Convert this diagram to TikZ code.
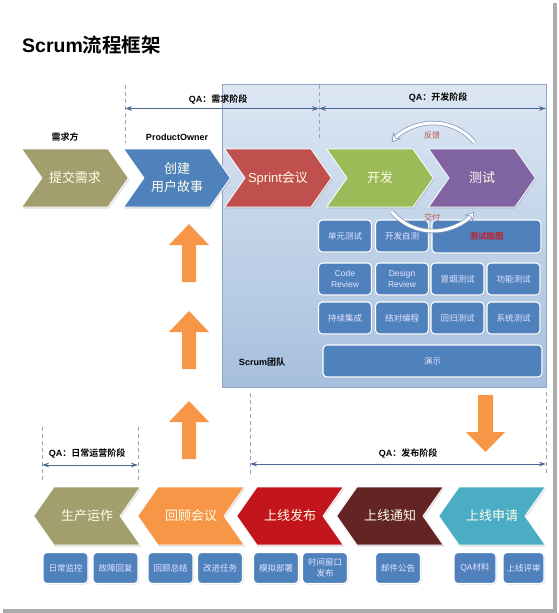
\documentclass[tikz,border=0pt]{standalone}
\usepackage{fontspec}
\setmainfont{Liberation Sans}
\newfontfamily\cjk{Noto Sans CJK SC}[BoldFont={Noto Sans CJK SC Bold}]
\usetikzlibrary{shapes.symbols,arrows.meta,shadows}
\usetikzlibrary{positioning}
\definecolor{chOlive}{HTML}{A39E6E}
\definecolor{chBlue}{HTML}{4F81BD}
\definecolor{chRed}{HTML}{C0504D}
\definecolor{chGreen}{HTML}{9BBB59}
\definecolor{chPurple}{HTML}{8064A2}
\definecolor{chOrange}{HTML}{F79646}
\definecolor{chCrimson}{HTML}{C3161C}
\definecolor{chMaroon}{HTML}{632523}
\definecolor{chTeal}{HTML}{4BACC6}
\definecolor{qaLine}{HTML}{4A6892}
\definecolor{dashGray}{HTML}{95A7C0}
\definecolor{teamTop}{HTML}{DDE7F3}
\definecolor{teamBottom}{HTML}{A6BFDE}
\definecolor{teamEdge}{HTML}{8EA6C6}
\definecolor{loopEdge}{HTML}{7F97B8}
\definecolor{mapRed}{HTML}{C0202A}
\tikzset{
    chev/.style={
           signal, signal to=east, signal from=west,
           signal pointer angle=110,
           draw=white, line width=0.8pt,
           minimum height=58pt,
           text width=60pt, inner xsep=3pt, inner ysep=0pt,
           align=center,
           text=white!92!yellow,
           font=\cjk\fontsize{13}{18}\selectfont,
           drop shadow={opacity=0.25, shadow xshift=1pt, shadow yshift=-1.5pt},
           },
    chevback/.style={chev, signal to=west, signal from=east},
    task/.style={
           rectangle,
           rounded corners=4pt,
           fill=chBlue,
           draw=white, line width=1.1pt,
           minimum width=53pt,
           minimum height=32pt,
           inner sep=0pt,
           align=center,
           text=white!90!blue,
           font=\cjk\fontsize{8.5}{11}\selectfont,
           drop shadow={opacity=0.25, shadow xshift=1pt, shadow yshift=-1pt},
           },
    smalltask/.style={task, minimum width=45pt, minimum height=31pt},
    caption/.style={font=\bfseries\fontsize{9}{11}\selectfont, inner sep=0pt},
    phase/.style={dashGray, line width=0.9pt, dash pattern=on 4pt off 3pt},
    qa/.style={qaLine, line width=0.8pt, {Stealth[length=7pt,width=4.5pt]}-{Stealth[length=7pt,width=4.5pt]}},
    loopline/.style={draw=loopEdge, line width=0.7pt, double=white, double distance=3pt,
           -{Stealth[length=9pt,width=11pt,fill=white]}},
    looptext/.style={text=chRed, font=\cjk\fontsize{8}{10}\selectfont, inner sep=0pt},
}

\begin{document}
\begin{tikzpicture}[x=1pt,y=-1pt]
  \useasboundingbox (0,0) rectangle (558,613);
  % frame shadow
  \fill[gray!65] (553,3) rectangle (557,613);
  \fill[gray!65] (3,609) rectangle (557,613);

  \node[anchor=west, inner sep=0pt, font=\bfseries\fontsize{19.5}{22}\selectfont] (title) at (22,45)
    {Scrum\cjk 流程框架};

  % scrum team
  \draw[teamEdge, top color=teamTop, bottom color=teamBottom] (222,84) rectangle (546,387);
  \node[caption] (team) at (262,362) {Scrum\cjk 团队};

  % top row
  \node[chev, fill=chOlive] (req) at (75,178) {提交需求};
  \node[chev, fill=chBlue] (story) at (177,178) {创建\\用户故事};
  \node[chev, fill=chRed] (sprint) at (278,178) {\rmfamily Sprint\cjk 会议};
  \node[chev, fill=chGreen] (dev) at (380,178) {开发};
  \node[chev, fill=chPurple] (test) at (482,178) {测试};

  \node[caption] (reqside) at (65,137) {\cjk 需求方};
  \node[caption] (po) at (177,137) {ProductOwner};

  % QA phases, top
  \coordinate (d1t) at (125,85);  \coordinate (d1b) at (125,143);
  \coordinate (d2t) at (319,85);  \coordinate (d2b) at (319,141);
  \coordinate (d3) at (546,108.5);
  \draw[phase] (d1t) -- (d1b);
  \draw[phase] (d2t) -- (d2b);
  \draw[qa] (d1t |- d3) -- (d2t |- d3);
  \draw[qa] (d2t |- d3) -- (d3);
  \node[caption] (qareq) at (218,100) {QA\cjk ：需求阶段};
  \node[caption] (qadev) at (438,98) {QA\cjk ：开发阶段};

  % team practices
  \node[task] (unit) at (345,236) {单元测试};
  \node[task] (selftest) at (402,236) {开发自测};
  \node[task, minimum width=109pt, minimum height=33pt, text=mapRed, font=\cjk\bfseries\fontsize{8.5}{11}\selectfont] (mindmap) at (486.5,236.5) {测试脑图};
  \node[task, font=\fontsize{8.5}{10.5}\selectfont] (codereview) at (345,279) {Code\\Review};
  \node[task, font=\fontsize{8.5}{10.5}\selectfont] (designreview) at (402,279) {Design\\Review};
  \node[task] (smoke) at (457.5,279) {冒烟测试};
  \node[task] (func) at (513.5,279) {功能测试};
  \node[task] (ci) at (345,318) {持续集成};
  \node[task] (pair) at (402,318) {结对编程};
  \node[task] (regress) at (457.5,318) {回归测试};
  \node[task] (system) at (513.5,318) {系统测试};
  \node[task, minimum width=219pt] (demo) at (432.5,361) {演示};

  % feedback loop
  \coordinate (loop) at (433,177);
  \draw[loopline] ([shift={(-40:54)}]loop) arc[start angle=-40, end angle=-140, radius=54];
  \draw[loopline] ([shift={(-220:54)}]loop) arc[start angle=-220, end angle=-320, radius=54];
  \node[looptext] (fb) at (432,135) {反馈};
  \node[looptext] (dl) at (432,217) {交付};

  % orange arrows
  \foreach \tip in {224,311,401}
    \fill[chOrange] (189,\tip) -- (209,\tip+21) -- (196,\tip+21) -- (196,\tip+58)
      -- (182,\tip+58) -- (182,\tip+21) -- (169,\tip+21) -- cycle;
  \fill[chOrange] (478,395) -- (493,395) -- (493,432) -- (505,432) -- (485.5,452)
    -- (466,432) -- (478,432) -- cycle;

  % QA phases, bottom
  \coordinate (d4t) at (42,427);  \coordinate (d4b) at (42,482);
  \coordinate (d5t) at (138,427); \coordinate (d5b) at (138,482);
  \coordinate (d6t) at (250,393); \coordinate (d6b) at (250,475);
  \coordinate (d7t) at (546,392); \coordinate (d7b) at (546,476);
  \draw[phase] (d4t) -- (d4b);
  \draw[phase] (d5t) -- (d5b);
  \draw[phase] (d6t) -- (d6b);
  \draw[phase] (d7t) -- (d7b);
  \draw[qa] (42,465) -- (138,465);
  \draw[qa] (250,464) -- (546,464);
  \node[caption] (qaops) at (87,454) {QA\cjk ：日常运营阶段};
  \node[caption] (qarel) at (408,454) {QA\cjk ：发布阶段};

  % bottom row
  \node[chevback, fill=chOlive] (ops) at (87,516) {生产运作};
  \node[chevback, fill=chOrange] (retro) at (191,516) {回顾会议};
  \node[chevback, fill=chCrimson] (release) at (290,516) {上线发布};
  \node[chevback, fill=chMaroon] (notice) at (390,516) {上线通知};
  \node[chevback, fill=chTeal] (apply) at (492,516) {上线申请};

  \node[smalltask] (monitor) at (65.5,568) {日常监控};
  \node[smalltask] (recover) at (115.5,568) {故障回复};
  \node[smalltask] (summary) at (170.5,568) {回顾总结};
  \node[smalltask] (improve) at (220,568) {改进任务};
  \node[smalltask] (mock) at (276,568) {模拟部署};
  \node[smalltask] (window) at (325,568) {时间窗口\\发布};
  \node[smalltask] (mail) at (398,568) {邮件公告};
  \node[smalltask, minimum width=42pt] (qadoc) at (475,568) {\rmfamily QA\cjk 材料};
  \node[smalltask, minimum width=41pt] (review) at (523.5,568) {上线评审};
\end{tikzpicture}
\end{document}
